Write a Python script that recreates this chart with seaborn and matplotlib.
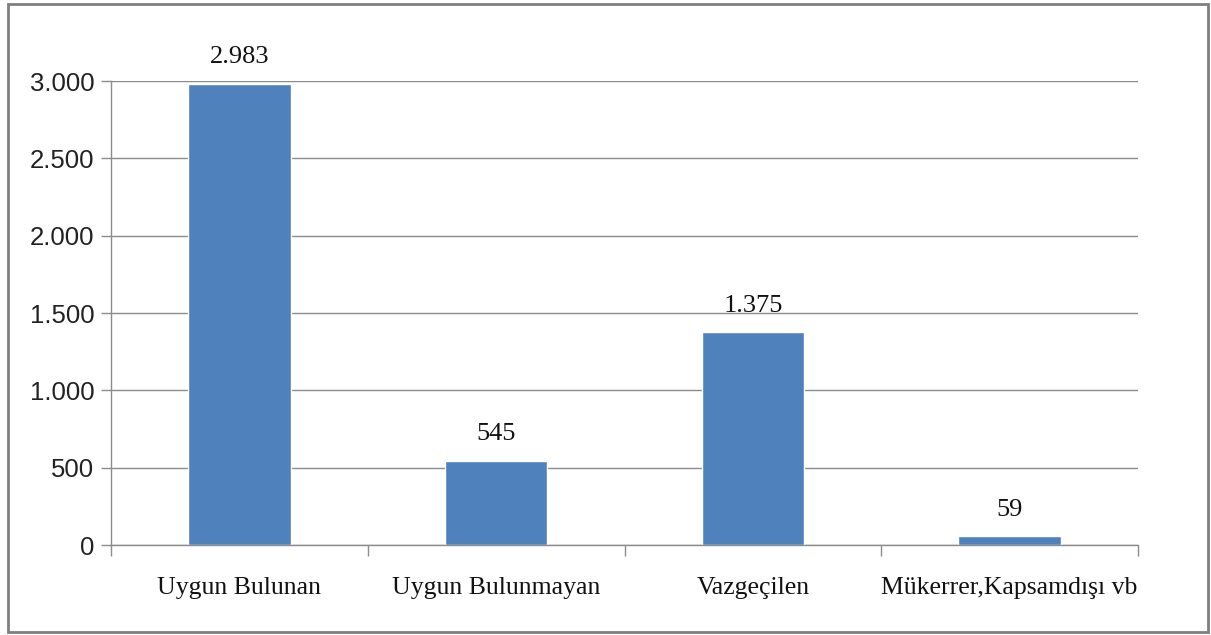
import matplotlib
matplotlib.use("Agg")
import matplotlib.pyplot as plt
import seaborn as sns
import pandas as pd
from matplotlib.ticker import FuncFormatter, FixedLocator, NullFormatter
from matplotlib.patches import Rectangle

categories = ["Uygun Bulunan", "Uygun Bulunmayan", "Vazgeçilen", "Mükerrer,Kapsamdışı vb"]
values = [2983, 545, 1375, 59]
yticks = [0, 500, 1000, 1500, 2000, 2500, 3000]

def tr(v):
    return f"{int(v):,}".replace(",", ".")

df = pd.DataFrame({"cat": categories, "val": values})

sns.set_theme(style="white")
plt.rcParams['font.family'] = ['Liberation Sans', 'DejaVu Sans']

fig = plt.figure(figsize=(12.11, 6.35), dpi=100)
ax = fig.add_axes([0.0917, 0.1417, 0.848, 0.7307])

sns.barplot(data=df, x="cat", y="val", color="#4F81BD", saturation=1, width=0.4, ax=ax)

ax.set_ylim(0, 3000)
ax.set_xlim(-0.5, 3.5)
ax.set_yticks(yticks)
ax.yaxis.set_major_formatter(FuncFormatter(lambda v, p: tr(v)))
ax.grid(axis="y", color="#8c8c8c", linewidth=1)
ax.set_axisbelow(True)
for s in ["top", "right"]:
    ax.spines[s].set_visible(False)
for s in ["left", "bottom"]:
    ax.spines[s].set_color("#8c8c8c")
    ax.spines[s].set_linewidth(1)

ax.tick_params(axis="y", length=7, color="#8c8c8c", width=1, left=True, labelsize=18.5, pad=5, labelcolor="#222222")
ax.set_xticks(range(len(categories)))
ax.set_xticklabels(categories, fontfamily="Liberation Serif", fontsize=18.5)
ax.tick_params(axis="x", length=0, pad=23, labelcolor="#111111")
ax.xaxis.set_minor_locator(FixedLocator([-0.5, 0.5, 1.5, 2.5, 3.5]))
ax.xaxis.set_minor_formatter(NullFormatter())
ax.tick_params(axis="x", which="minor", length=8, color="#8c8c8c", width=1, bottom=True)

ax.set_xlabel("")
ax.set_ylabel("")

for i, v in enumerate(values):
    ax.annotate(tr(v), (i, v), xytext=(0, 11), textcoords="offset points",
                ha="center", va="bottom", fontfamily="Liberation Serif", fontsize=19, color="#111111")

fig.patches.append(Rectangle((0.0066, 0.005), 0.9906, 0.988, transform=fig.transFigure,
                             fill=False, edgecolor="#7f7f7f", linewidth=2))

fig.savefig("out.png", dpi=100)
